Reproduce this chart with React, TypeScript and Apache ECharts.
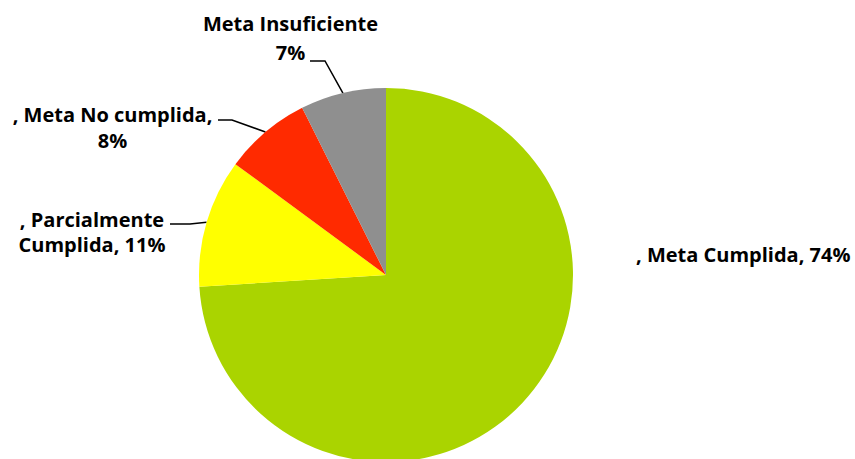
import React, { useEffect, useRef } from "react";
import * as echarts from "echarts";

// ---- data ----
const categories = ["Meta Cumplida", "Parcialmente Cumplida", "Meta No cumplida", "Meta Insuficiente"];
const values = [74.0, 11.1, 7.5, 7.4];
const sliceColors = ["#AAD400", "#FFFF00", "#FF2A00", "#8F8F8F"];
// label text templates ({name} = category, {pct} = rounded percent)
const labelTemplates = [", {name}, {pct}%", ", {name}, {pct}%", ", {name},\n{pct}%", "{name}\n{pct}%"];
const nameBreaks = [false, true, false, false];

// ---- layout (label placement, not data) ----
type LabelPlace = {
  x: number; y: number; align: string; va: string; lineHeight: number;
  line?: [number, number][]; // turn point, end point next to label
};
const labelPlaces: LabelPlace[] = [
  { x: 636, y: 254, align: "left", va: "middle", lineHeight: 25 },
  { x: 92, y: 206.5, align: "center", va: "top", lineHeight: 25, line: [[190, 224], [170, 224]] },
  { x: 112.5, y: 101.75, align: "center", va: "top", lineHeight: 25.5, line: [[232, 120], [218, 120]] },
  { x: 290.5, y: 8.5, align: "center", va: "top", lineHeight: 29, line: [[325, 61], [310, 61]] },
];

export default function App() {
  const ref = useRef<HTMLDivElement>(null);
  useEffect(() => {
    if (!ref.current) return;
    const chart = echarts.init(ref.current, null, { renderer: "svg" });
    const data = categories.map((name, i) => ({
      name,
      value: values[i],
      itemStyle: { color: sliceColors[i] },
      label: { lineHeight: labelPlaces[i].lineHeight },
      labelLine: { show: !!labelPlaces[i].line },
    }));
    chart.setOption({
      animation: false,
      backgroundColor: "#ffffff",
      series: [
        {
          type: "pie",
          center: [386, 275],
          radius: 187,
          startAngle: 90,
          clockwise: true,
          avoidLabelOverlap: false,
          silent: true,
          data,
          label: {
            show: true,
            position: "outside",
            color: "#000000",
            fontFamily: "Open Sans",
            fontWeight: "bold",
            fontSize: 20,
            formatter: (p: any) => {
              const i = p.dataIndex;
              const nm = nameBreaks[i] ? p.name.replace(" ", "\n") : p.name;
              return labelTemplates[i]
                .replace("{name}", nm)
                .replace("{pct}", String(Math.round(p.percent)));
            },
          },
          labelLine: {
            show: true,
            length: 15,
            length2: 15,
            lineStyle: { color: "#000000", width: 1.5 },
          },
          labelLayout: (params: any) => {
            const L = labelPlaces[params.dataIndex];
            const res: any = { x: L.x, y: L.y, align: L.align, verticalAlign: L.va };
            const pts = params.labelLinePoints;
            if (L.line && pts && pts[0]) {
              res.labelLinePoints = [pts[0], L.line[0], L.line[1]];
            }
            return res;
          },
          emphasis: { disabled: true },
        },
      ],
    });
    return () => chart.dispose();
  }, []);
  return (
    <div
      ref={ref}
      style={{ position: "fixed", left: 0, top: 0, width: 855, height: 459 }}
    />
  );
}
